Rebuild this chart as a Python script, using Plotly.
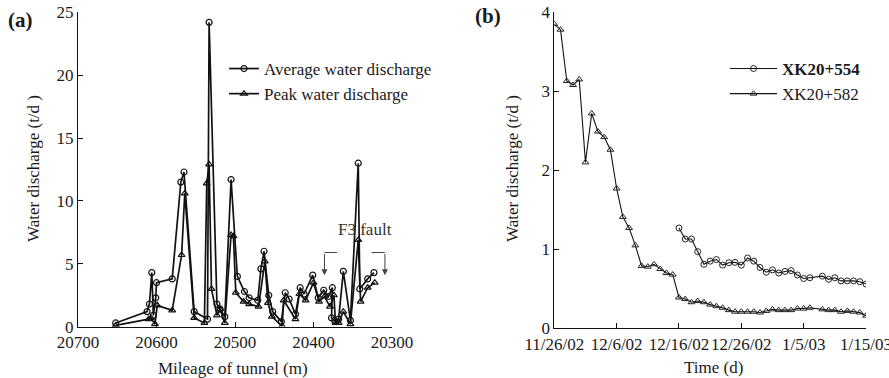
import plotly.graph_objects as go

# ---------------- Panel (a) data ----------------
mileage_avg = [20652, 20612, 20609, 20606, 20604, 20601, 20600, 20580, 20569, 20565,
               20552, 20535, 20533, 20523, 20519, 20513, 20505, 20497, 20488, 20482,
               20471, 20467, 20463, 20457, 20452, 20441, 20436, 20431, 20423, 20417,
               20412, 20401, 20394, 20387, 20381, 20376, 20377, 20373, 20368, 20362,
               20353, 20343, 20341, 20331, 20323]
avg_discharge = [0.3, 1.2, 1.8, 4.3, 0.9, 2.3, 3.5, 3.8, 11.5, 12.3,
                 1.2, 0.6, 24.2, 1.8, 1.4, 0.8, 11.7, 4.0, 2.8, 2.3,
                 2.1, 4.6, 6.0, 2.5, 1.2, 0.4, 2.7, 2.2, 1.0, 3.1,
                 2.6, 4.1, 2.3, 2.9, 2.4, 3.1, 0.7, 0.5, 0.6, 4.4,
                 0.5, 13.0, 3.0, 3.8, 4.3]

mileage_peak = [20652, 20610, 20607, 20602, 20599, 20580, 20568, 20564, 20552, 20539,
                20536, 20533, 20530, 20523, 20519, 20513, 20505, 20502, 20499, 20489,
                20482, 20470, 20462, 20458, 20453, 20440, 20438, 20423, 20418, 20410,
                20400, 20393, 20386, 20379, 20374, 20372, 20368, 20362, 20353, 20343,
                20340, 20331, 20322]
peak_discharge = [0.1, 0.6, 0.7, 0.2, 1.7, 1.3, 5.7, 10.6, 0.7, 0.3,
                  11.4, 12.9, 3.0, 0.9, 1.4, 0.3, 7.3, 7.2, 2.7, 2.0,
                  1.8, 1.6, 5.2, 1.9, 0.8, 0.05, 2.1, 0.6, 2.6, 2.1,
                  3.5, 2.0, 2.4, 1.6, 2.5, 0.3, 0.3, 1.2, 0.2, 6.9,
                  2.0, 3.1, 3.5]

mileage_ticks = [20700, 20600, 20500, 20400, 20300]
mileage_tick_text = ["20700", "20600", "20500", "20400", "20300"]

# ---------------- Panel (b) data ----------------
dates = ["2002-11-26", "2002-11-27", "2002-11-28", "2002-11-29", "2002-11-30",
         "2002-12-01", "2002-12-02", "2002-12-03", "2002-12-04", "2002-12-05",
         "2002-12-06", "2002-12-07", "2002-12-08", "2002-12-09", "2002-12-10",
         "2002-12-11", "2002-12-12", "2002-12-13", "2002-12-14", "2002-12-15",
         "2002-12-16", "2002-12-17", "2002-12-18", "2002-12-19", "2002-12-20",
         "2002-12-21", "2002-12-22", "2002-12-23", "2002-12-24", "2002-12-25",
         "2002-12-26", "2002-12-27", "2002-12-28", "2002-12-29", "2002-12-30",
         "2002-12-31", "2003-01-01", "2003-01-02", "2003-01-03", "2003-01-04",
         "2003-01-05", "2003-01-06", "2003-01-08", "2003-01-09", "2003-01-10",
         "2003-01-11", "2003-01-12", "2003-01-13", "2003-01-14", "2003-01-15"]
dates_582 = dates
xk582 = [3.85, 3.78, 3.13, 3.08, 3.15, 2.10, 2.72, 2.49, 2.42, 2.26,
         1.77, 1.41, 1.27, 1.05, 0.79, 0.78, 0.81, 0.75, 0.70, 0.68,
         0.39, 0.37, 0.33, 0.345, 0.33, 0.30, 0.28, 0.26, 0.23, 0.21,
         0.21, 0.21, 0.21, 0.20, 0.22, 0.24, 0.23, 0.23, 0.23, 0.25,
         0.25, 0.26, 0.24, 0.23, 0.23, 0.21, 0.22, 0.21, 0.20, 0.16]
dates_554 = dates[20:]
xk554 = [1.27, 1.13, 1.13, 0.97, 0.81, 0.85, 0.87, 0.80, 0.83, 0.835,
         0.80, 0.89, 0.85, 0.77, 0.71, 0.74, 0.70, 0.72, 0.73, 0.675,
         0.63, 0.64, 0.66, 0.62, 0.64, 0.60, 0.60, 0.60, 0.59, 0.56]

date_ticks = ["2002-11-26", "2002-12-06", "2002-12-16", "2002-12-26", "2003-01-05", "2003-01-15"]
date_tick_text = ["11/26/02", "12/6/02", "12/16/02", "12/26/02", "1/5/03", "1/15/03"]

# ---------------- Layout helpers ----------------
W, H = 889, 378
FONT = "Liberation Serif"
TXT = "#1a1a1a"


def px(x):
    return x / W


def py(y):
    return 1 - y / H


fig = go.Figure()

fig.add_trace(go.Scatter(
    x=mileage_avg, y=avg_discharge, mode="lines+markers", name="Average water discharge",
    line=dict(color="#111", width=1.7),
    marker=dict(symbol="circle-open", size=6, color="#111", line=dict(width=1.2)),
    xaxis="x", yaxis="y", legend="legend"))
fig.add_trace(go.Scatter(
    x=mileage_peak, y=peak_discharge, mode="lines+markers", name="Peak water discharge",
    line=dict(color="#111", width=1.7),
    marker=dict(symbol="triangle-up-open", size=6, color="#111", line=dict(width=1.2)),
    xaxis="x", yaxis="y", legend="legend"))

fig.add_trace(go.Scatter(
    x=dates_554, y=xk554, mode="lines+markers", name="<b>XK20+554</b>",
    line=dict(color="#111", width=1.1),
    marker=dict(symbol="circle-open", size=6, color="#222", line=dict(width=1)),
    xaxis="x2", yaxis="y2", legend="legend2"))
fig.add_trace(go.Scatter(
    x=dates_582, y=xk582, mode="lines+markers", name="XK20+582",
    line=dict(color="#111", width=1.1),
    marker=dict(symbol="triangle-up-open", size=6, color="#222", line=dict(width=1)),
    xaxis="x2", yaxis="y2", legend="legend2"))

axis_common = dict(showline=True, linecolor="#111", linewidth=1, ticks="inside", ticklen=5,
                   tickcolor="#111", showgrid=False, zeroline=False, tickangle=0,
                   ticklabeloverflow="allow",
                   tickfont=dict(family=FONT, size=17, color=TXT), automargin=False)

fig.update_layout(
    width=W, height=H, margin=dict(l=0, r=0, t=0, b=0),
    paper_bgcolor="white", plot_bgcolor="white",
    font=dict(family=FONT, size=17, color=TXT),
    xaxis=dict(domain=[px(78), px(392)], range=[20700, 20300], tickvals=mileage_ticks,
               ticktext=mileage_tick_text, anchor="y", **axis_common),
    yaxis=dict(domain=[py(326.7), py(12.3)], range=[0, 25], tickvals=[0, 5, 10, 15, 20, 25],
               anchor="x", **axis_common),
    xaxis2=dict(domain=[px(554.3), px(866)], type="date",
                range=["2002-11-26", "2003-01-15"], tickvals=date_ticks, ticktext=date_tick_text,
                anchor="y2", **axis_common),
    yaxis2=dict(domain=[py(328.3), py(12.3)], range=[0, 4], tickvals=[0, 1, 2, 3, 4],
                anchor="x2", **axis_common),
    legend=dict(x=px(224), y=py(51), xanchor="left", yanchor="top", bgcolor="rgba(0,0,0,0)",
                font=dict(family=FONT, size=17, color=TXT), itemwidth=30, tracegroupgap=0),
    legend2=dict(x=px(725), y=py(51), xanchor="left", yanchor="top", bgcolor="rgba(0,0,0,0)",
                 font=dict(family=FONT, size=17, color=TXT), itemwidth=47, tracegroupgap=0),
    showlegend=True,
)


def label(text, x, y, size=17, angle=0, color=TXT):
    return dict(text=text, x=px(x), y=py(y), xref="paper", yref="paper", showarrow=False,
                xanchor="center", yanchor="middle", textangle=angle,
                font=dict(family=FONT, size=size, color=color))


annotations = [
    label("<b>(a)</b>", 20, 20, size=21),
    label("<b>(b)</b>", 488, 16, size=21),
    label("Water discharge (t/d )", 33, 169, angle=-90),
    label("Water discharge (t/d )", 512, 169, angle=-90),
    label("Mileage of tunnel (m)", 233, 368),
    label("Time (d)", 713, 367),
    dict(text="F3 fault", x=20335, y=7.7, xref="x", yref="y", showarrow=False,
         xanchor="center", yanchor="middle", font=dict(family=FONT, size=17, color="#333")),
    dict(text="", x=20386, y=4.1, ax=20386, ay=5.9, xref="x", yref="y", axref="x", ayref="y",
         showarrow=True, arrowhead=2, arrowsize=1.2, arrowwidth=1, arrowcolor="#444"),
    dict(text="", x=20309, y=4.1, ax=20309, ay=5.9, xref="x", yref="y", axref="x", ayref="y",
         showarrow=True, arrowhead=2, arrowsize=1.2, arrowwidth=1, arrowcolor="#444"),
]
fig.update_layout(annotations=annotations)

fig.add_shape(type="line", x0=20386, x1=20370, y0=5.9, y1=5.9, xref="x", yref="y",
              line=dict(color="#444", width=1))
fig.add_shape(type="line", x0=20326, x1=20309, y0=5.9, y1=5.9, xref="x", yref="y",
              line=dict(color="#444", width=1))

# Remove the browser's default 8px page margin so the figure fills the window.
fig.write_html("out.html", config={"displayModeBar": False},
               post_script="document.body.style.margin='0px';")
